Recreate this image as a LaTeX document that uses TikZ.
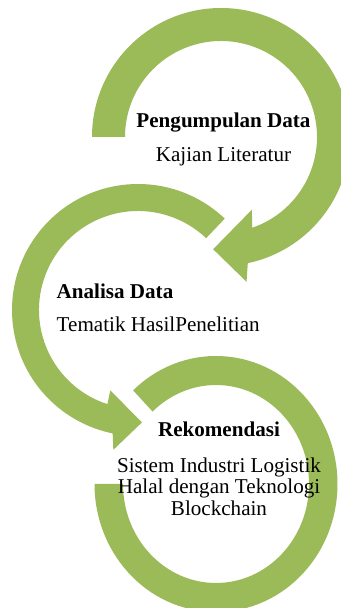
\documentclass[tikz,border=0pt]{standalone}
\usepackage{fontspec}
\setmainfont{Liberation Serif}
\usepackage{tikz}
\usetikzlibrary{positioning}
\definecolor{ringgreen}{RGB}{155,187,89}

\tikzset{
  cyclearrow/.style={fill=ringgreen, draw=none},
  stagetitle/.style={font=\fontsize{18}{18.3}\selectfont\bfseries, inner sep=0pt},
  stagetext/.style={font=\fontsize{18}{18.3}\selectfont, inner sep=0pt, align=center}
}

\begin{document}
\begin{tikzpicture}[x=0.03cm, y=0.03cm]
  \clip (0,0) rectangle (341,608);
  \begin{scope}[shift={(221,471)}]
    \fill[cyclearrow] (180:129) arc[start angle=180, end angle=-78, radius=129]
      -- (-80:147) -- (-94:112.5) -- (-67:79) -- (-71:96)
      arc[start angle=-71, end angle=180, radius=96] -- cycle;
  \end{scope}
  \begin{scope}[shift={(138,298)}]
    \fill[cyclearrow] (46.5:126) arc[start angle=46.5, end angle=258.4, radius=126]
      -- (260:142) -- (272:112.5) -- (251:85) -- (252:99)
      arc[start angle=252, end angle=46.5, radius=99] -- cycle;
  \end{scope}
  \begin{scope}[shift={(216,124)}]
    \fill[cyclearrow] (133:121.5 and 128) arc[start angle=133, end angle=-180, x radius=121.5, y radius=128]
      -- (180:93 and 99)
      arc[start angle=-180, end angle=133, x radius=93, y radius=99] -- cycle;
  \end{scope}

  \node[stagetitle, anchor=base] (pengumpulan) at (223.5,480) {Pengumpulan Data};
  \node[stagetext, below=29pt of pengumpulan.base, anchor=base] (kajian) {Kajian Literatur};
  \node[stagetitle, anchor=base west] (analisa) at (56.5,309) {Analisa Data};
  \node[stagetext, below=28pt of analisa.base west, anchor=base west] (tematik) {Tematik HasilPenelitian};
  \node[stagetitle, anchor=base] (rekomendasi) at (219,171) {Rekomendasi};
  \node[stagetext, below=17.4pt of rekomendasi.base, anchor=north] (rekomtext)
    {Sistem Industri Logistik\\Halal dengan Teknologi\\Blockchain};
\end{tikzpicture}
\end{document}
